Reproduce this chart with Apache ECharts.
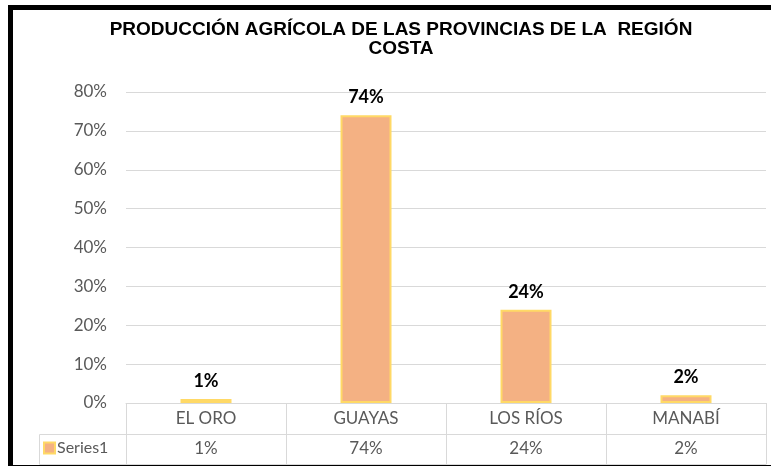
<!DOCTYPE html>
<html>
<head>
<meta charset="utf-8">
<script src="https://cdn.jsdelivr.net/npm/echarts@6/dist/echarts.min.js"></script>
<style>
  html, body { margin: 0; padding: 0; background: #fff; }
  #container { width: 771px; height: 466px; }
</style>
</head>
<body>
<div id="container"></div>
<script>
"use strict";

// provincias de la costa
const provincias = ['EL ORO', 'GUAYAS', 'LOS RÍOS', 'MANABÍ'];
const produccion = [1, 74, 24, 2];
const serieNombre = 'Series1';
const tituloTexto = 'PRODUCCIÓN AGRÍCOLA DE LAS PROVINCIAS DE LA  REGIÓN\nCOSTA';

const gris = '#595959';
const lineaTabla = '#d9d9d9';

let myChart = echarts.init(document.getElementById('container'));

let option = {
  animation: false,
  title: {
    text: tituloTexto,
    left: 401,
    top: 20,
    textAlign: 'center',
    padding: 0,
    textStyle: {
      fontFamily: 'Liberation Sans',
      fontWeight: 'bold',
      fontSize: 19,
      lineHeight: 19,
      color: '#000',
    },
  },
  legend: {
    data: [serieNombre],
    left: 43,
    top: 440,
    padding: 0,
    itemWidth: 11,
    itemHeight: 11,
    itemGap: 4,
    icon: 'rect',
    textStyle: { fontFamily: 'Lato', fontSize: 16, color: gris, padding: [0, 0, 0, -3] },
  },
  grid: {
    left: 126,
    right: 5,
    top: 92,
    bottom: 63,
  },
  xAxis: [
    {
      type: 'category',
      data: provincias,
      position: 'bottom',
      axisLine: { lineStyle: { color: lineaTabla } },
      axisTick: { show: true, length: 61, lineStyle: { color: lineaTabla } },
      axisLabel: { margin: 7, fontFamily: 'Lato', fontSize: 17, color: gris },
    },
    {
      type: 'category',
      data: provincias,
      position: 'bottom',
      offset: 31,
      axisLine: { lineStyle: { color: lineaTabla } },
      axisTick: { show: false },
      axisLabel: {
        margin: 6,
        fontFamily: 'Lato',
        fontSize: 17,
        color: gris,
        formatter: (v, i) => produccion[i] + '%',
      },
    },
    {
      type: 'category',
      data: provincias,
      position: 'bottom',
      offset: 61,
      axisLine: { lineStyle: { color: lineaTabla } },
      axisTick: { show: false },
      axisLabel: { show: false },
    },
  ],
  yAxis: {
    type: 'value',
    min: 0,
    max: 80,
    interval: 10,
    axisLine: { show: false },
    axisTick: { show: false },
    axisLabel: {
      margin: 19,
      fontFamily: 'Lato',
      fontSize: 17,
      color: gris,
      formatter: '{value}%',
    },
    splitLine: { lineStyle: { color: lineaTabla, width: 1 } },
  },
  series: [
    {
      name: serieNombre,
      type: 'bar',
      data: produccion,
      barWidth: 51,
      itemStyle: {
        color: '#f4b183',
        borderColor: '#ffd966',
        borderWidth: 2,
      },
      label: {
        show: true,
        position: 'top',
        distance: 9,
        formatter: '{c}%',
        fontFamily: 'Lato',
        fontWeight: 'bold',
        fontSize: 18,
        color: '#000',
      },
    },
  ],
  graphic: [
    // celda de la leyenda en la tabla
    {
      type: 'polyline',
      shape: { points: [[126, 434.5], [39.5, 434.5], [39.5, 464.5], [126, 464.5]] },
      style: { stroke: lineaTabla, lineWidth: 1, fill: null },
    },
    // marco negro
    {
      type: 'rect',
      shape: { x: 10.5, y: 7.5, width: 800, height: 460 },
      style: { stroke: '#000', lineWidth: 5, fill: null },
    },
  ],
};

myChart.setOption(option);
</script>
</body>
</html>
